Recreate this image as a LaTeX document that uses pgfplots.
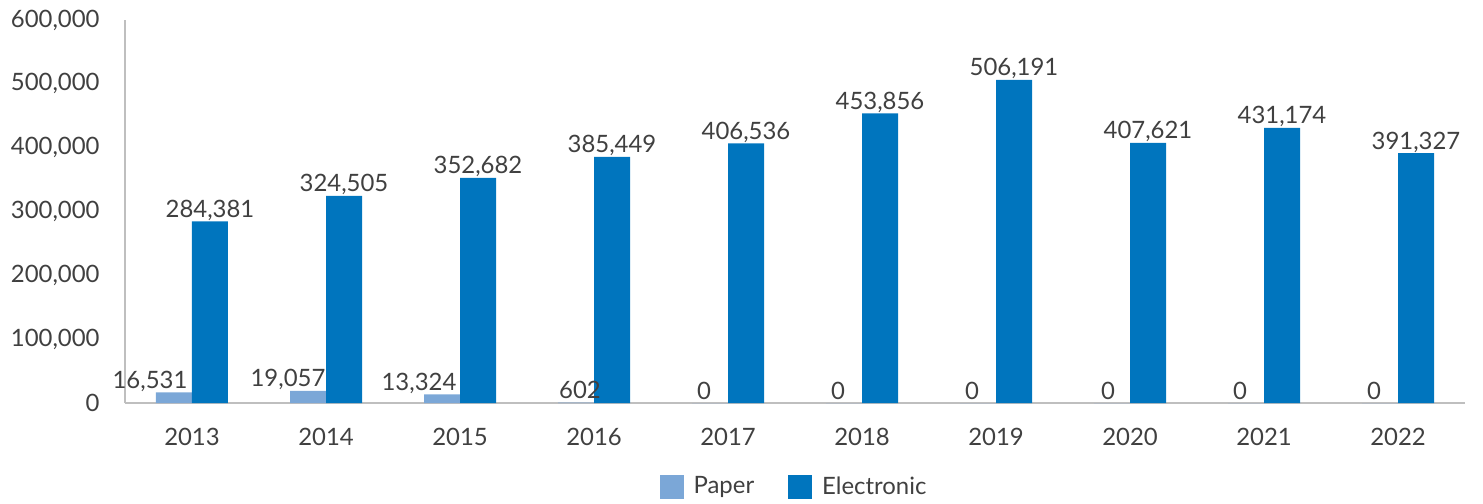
\documentclass[border=0pt]{standalone}
\usepackage{pgfplots}
\pgfplotsset{compat=1.18}
\usepackage{pgfplotstable}
\usepackage{fontspec}
\setmainfont{Lato}
\definecolor{paper}{HTML}{7BA7D7}
\definecolor{elec}{HTML}{0075BE}
\definecolor{txt}{HTML}{404040}
\definecolor{axl}{HTML}{BFBFBF}
\pgfplotstableread{
x paper elec dx
0 16531 284381 -12
1 19057 324505 -10
2 13324 352682 -11.5
3 602 385449 2
4 0 406536 -3
5 0 453856 -3
6 0 506191 -3
7 0 407621 -2
8 0 431174 -3
9 0 391327 -3
}\data
\begin{document}
\fontsize{12}{14}\selectfont
\begin{tikzpicture}
\path[use as bounding box] (-62.5bp,-50.5bp) rectangle (679bp,201.5bp);
\begin{axis}[
  at={(0,0)}, anchor=south west,
  scale only axis, width=670bp, height=191.5bp,
  xmin=-0.5, xmax=9.5, ymin=0, ymax=600000,
  ybar=0pt, bar width=18bp,
  axis x line*=bottom, axis y line*=left,
  axis line style={axl, line width=0.8bp},
  major tick length=0pt,
  xtick={0,...,9},
  xticklabels={2013,2014,2015,2016,2017,2018,2019,2020,2021,2022},
  ytick={0,100000,200000,300000,400000,500000,600000},
  scaled y ticks=false,
  /pgf/number format/fixed,
  /pgf/number format/precision=0,
  /pgf/number format/1000 sep={,},
  /pgf/number format/assume math mode=true,
  tick label style={text=txt, font=\fontsize{12}{14}\selectfont, inner sep=0pt},
  yticklabel style={xshift=-12.5bp},
  xticklabel style={yshift=-12.5bp},
  nodes near coords,
  nodes near coords style={anchor=south, inner sep=0pt, text depth=0pt, yshift=1.8bp, text=txt, font=\fontsize{12}{14}\selectfont},
  legend style={at={(0.5,0)}, anchor=center, yshift=-42bp, draw=none, fill=none,
    legend columns=2, text=txt, font=\fontsize{12}{14}\selectfont,
    /tikz/every odd column/.append style={column sep=3bp},
    /tikz/every even column/.append style={column sep=15bp}},
]
\addplot[fill=paper, draw=none,
  legend image code/.code={\fill[paper] (0bp,-6bp) rectangle (12bp,6bp);},
  visualization depends on={\thisrow{dx} \as \dx},
  every node near coord/.append style={xshift=\dx bp}]
  table[x=x, y=paper]{\data};
\addlegendentry{Paper}
\addplot[fill=elec, draw=none,
  legend image code/.code={\fill[elec] (0bp,-6bp) rectangle (12bp,6bp);}]
  table[x=x, y=elec]{\data};
\addlegendentry{Electronic}
\end{axis}
\end{tikzpicture}
\end{document}
